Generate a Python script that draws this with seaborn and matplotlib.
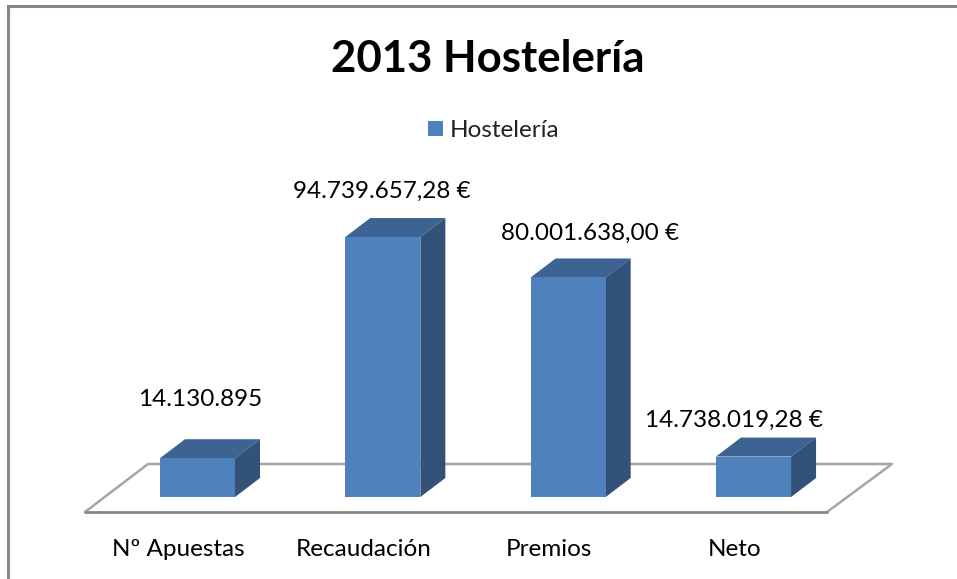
"""
plot.py - 2013 Hosteleria pseudo-3D column chart
"""
import matplotlib
matplotlib.use('Agg')
import matplotlib.pyplot as plt
from matplotlib.patches import Polygon
from matplotlib.transforms import ScaledTranslation
import pandas as pd
import seaborn as sns

categories = ['Nº Apuestas', 'Recaudación', 'Premios', 'Neto']
values = [14130895, 94739657.28, 80001638.00, 14738019.28]
value_labels = ['14.130.895', '94.739.657,28 €', '80.001.638,00 €', '14.738.019,28 €']
series_name = 'Hostelería'

W, H = 957, 579
DEPTH_X, DEPTH_Y = 25, 19
FRONT, TOP, SIDE = '#4F81BD', '#3C6391', '#335279'
TEXT_SIZE = 17.5
# label centres in pixels, they don't follow any rule in the original
LABEL_POS = [(200, 400), (382, 191), (590, 233), (734, 420)]

sns.set_theme(style='white')
plt.rcParams['font.family'] = ['Lato', 'DejaVu Sans']

fig = plt.figure(figsize=(W / 100, H / 100), dpi=100, facecolor='white')

# pixel overlay for floor, frame and text
bg = fig.add_axes([0, 0, 1, 1], zorder=0)
bg.set_xlim(0, W)
bg.set_ylim(H, 0)
bg.axis('off')

# frame, only top and left are visible in the picture
bg.plot([8, 8, W], [H, 6, 6], color='#868686', lw=2.2, solid_joinstyle='miter')

# floor
bg.plot([85, 148, 892, 827], [512, 464, 464, 512], color='#A6A6A6', lw=1.8)
bg.plot([85, 827], [512, 512], color='#868686', lw=2)

# bars axes: baseline at y=497, 120M spans 329 px
left, right, base, top = 104.8, 846.2, 497, 167.7
ax = fig.add_axes([left / W, 1 - base / H, (right - left) / W, (base - top) / H], zorder=1)
ax.patch.set_alpha(0)

df = pd.DataFrame({'categoria': categories, 'valor': values})
sns.barplot(data=df, x='categoria', y='valor', color=FRONT, saturation=1,
            width=0.405, linewidth=0, label=series_name, ax=ax, legend=False)
ax.set_xlim(-0.5, 3.5)
ax.set_ylim(0, 120e6)
ax.set_xlabel('')
ax.set_ylabel('')
ax.set_yticks([])
sns.despine(ax=ax, left=True, bottom=True)

# tick labels sit left of the bars because of the perspective
ax.tick_params(axis='x', length=0, pad=30, labelsize=TEXT_SIZE, colors='black')
shift = ScaledTranslation(-19 / 100, 0, fig.dpi_scale_trans)
for lab in ax.get_xticklabels():
    lab.set_transform(lab.get_transform() + shift)

# top and side faces, built from the bars seaborn drew
fig.canvas.draw()
to_px = ax.transData + bg.transData.inverted()
for bar in ax.patches:
    x0, y1 = to_px.transform((bar.get_x(), bar.get_height()))
    x1, y0 = to_px.transform((bar.get_x() + bar.get_width(), 0))
    bg.add_patch(Polygon([(x0, y1), (x0 + DEPTH_X, y1 - DEPTH_Y),
                          (x1 + DEPTH_X, y1 - DEPTH_Y), (x1, y1)],
                         facecolor=TOP, edgecolor='none', zorder=3))
    bg.add_patch(Polygon([(x1, y1), (x1 + DEPTH_X, y1 - DEPTH_Y),
                          (x1 + DEPTH_X, y0 - DEPTH_Y), (x1, y0)],
                         facecolor=SIDE, edgecolor='none', zorder=3))

for (px, py), txt in zip(LABEL_POS, value_labels):
    bg.text(px, py, txt, ha='center', va='center', fontsize=TEXT_SIZE, color='black')

bg.text(488, 59, '2013 Hostelería', ha='center', va='center',
        fontsize=31.5, fontweight='bold', color='black')

handles, labels = ax.get_legend_handles_labels()
if not handles:
    handles, labels = [ax.patches[0]], [series_name]
fig.legend(handles, labels, loc='center', bbox_to_anchor=(494 / W, 1 - 130.5 / H),
           frameon=False, fontsize=TEXT_SIZE, handlelength=0.58, handleheight=0.58,
           handletextpad=0.3, labelcolor='#222222')

fig.savefig('out.png', dpi=100)
plt.close(fig)
